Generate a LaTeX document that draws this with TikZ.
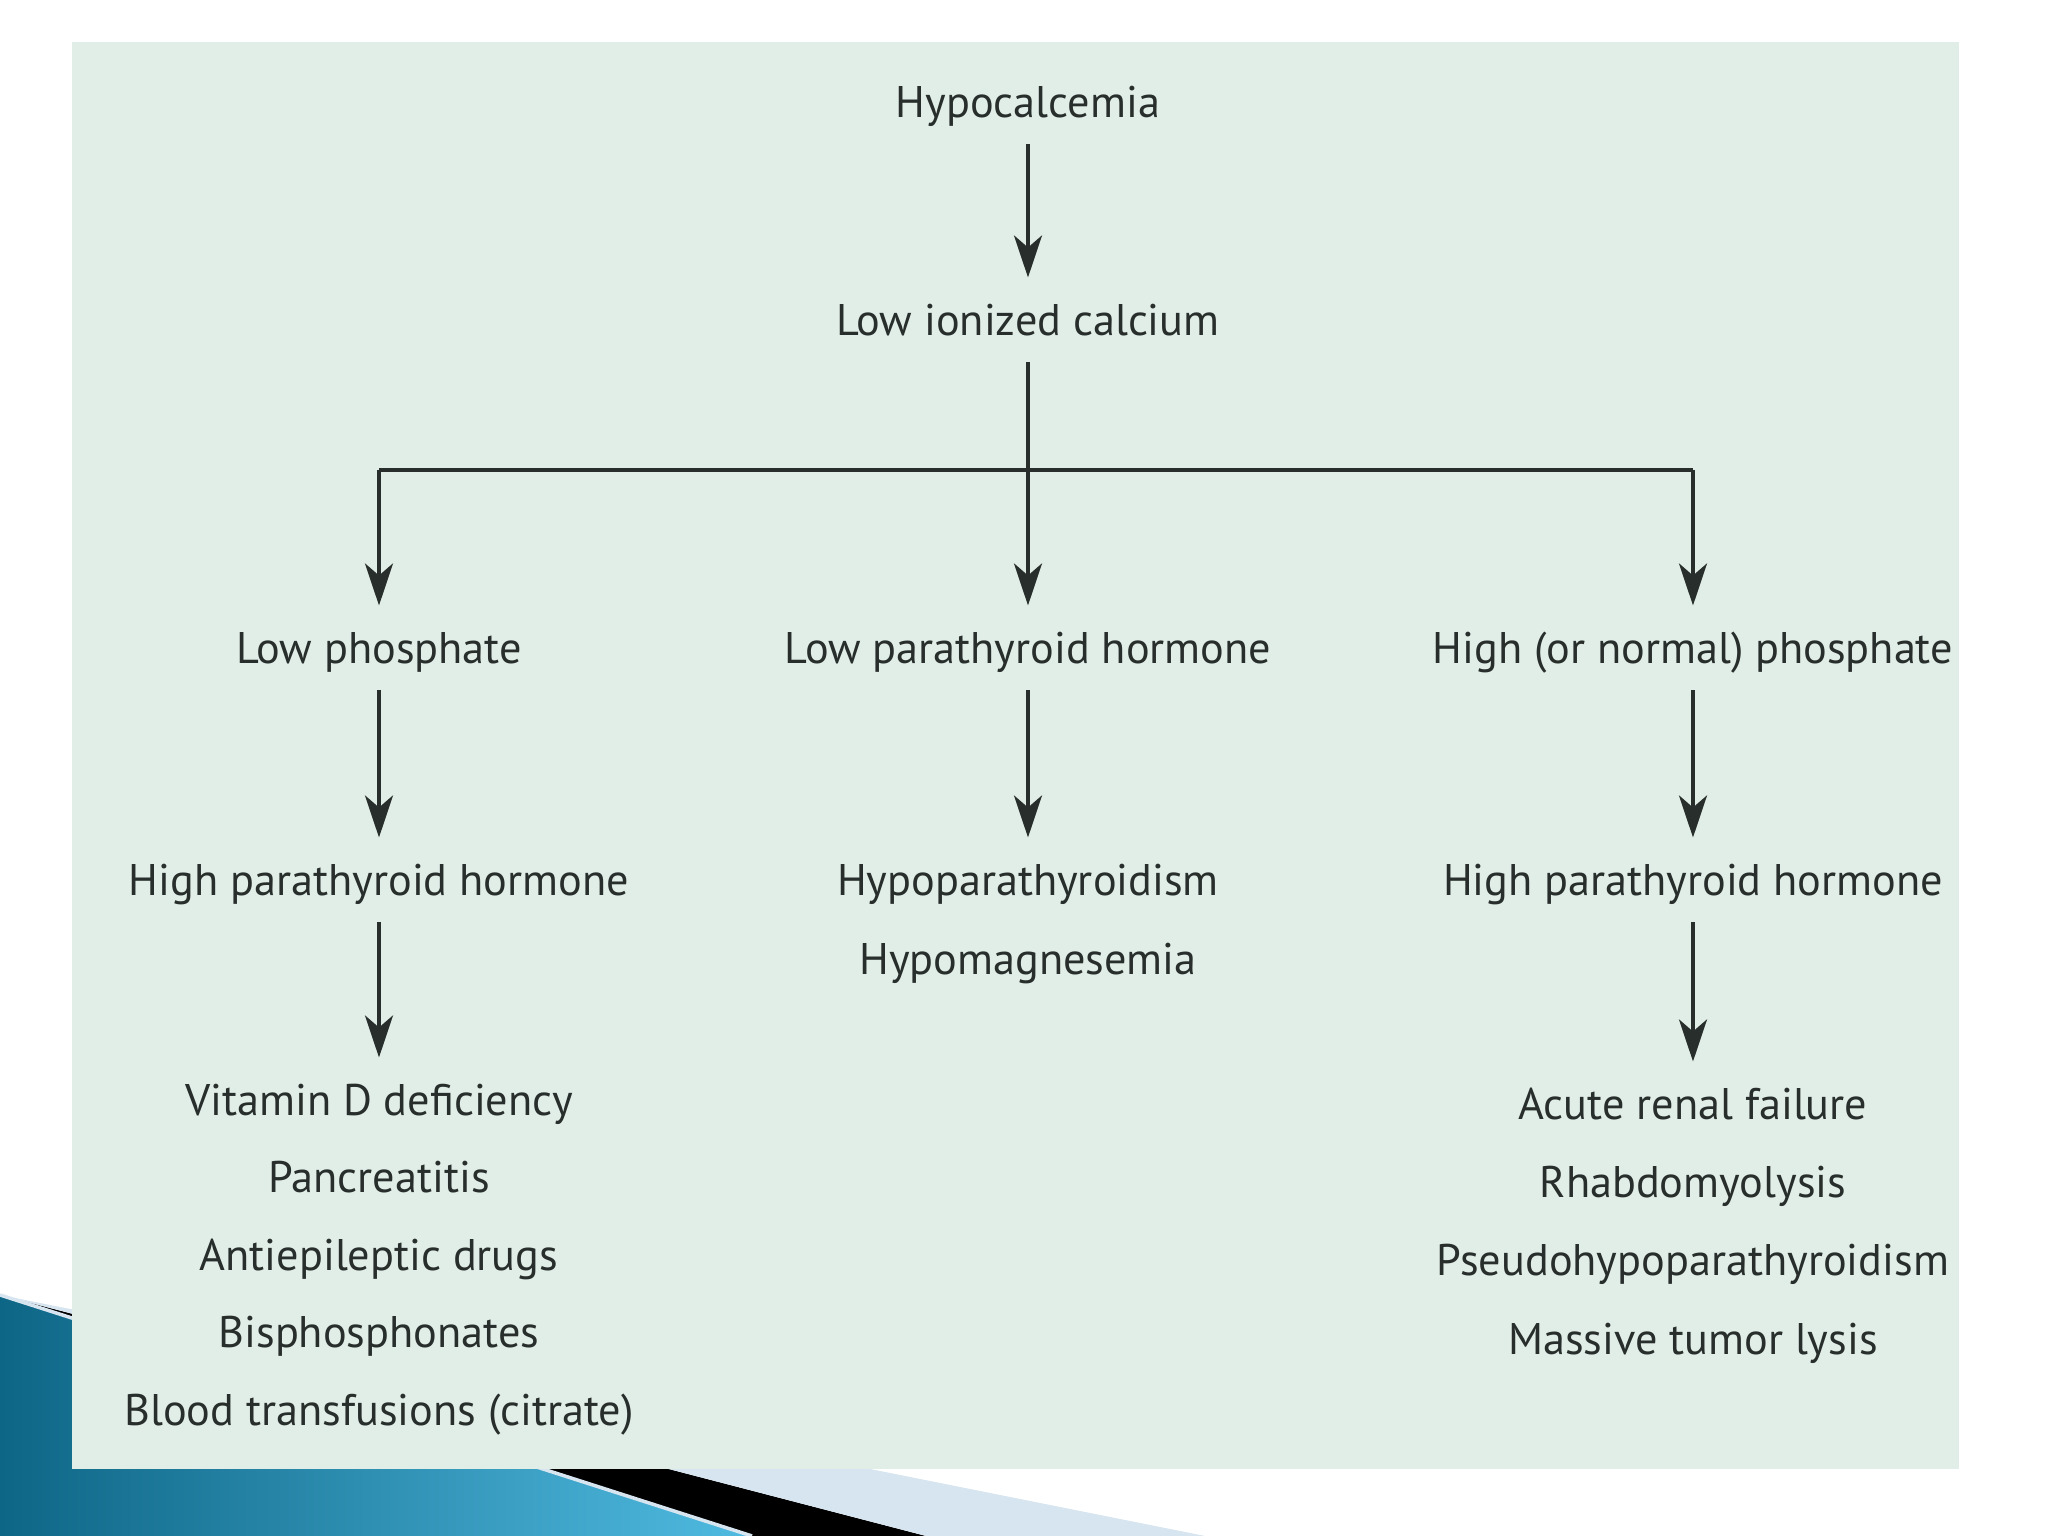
\documentclass[tikz,border=0pt]{standalone}
\usepackage{fontspec}
\setmainfont{PT Sans}
\usepackage{tikz}
\usetikzlibrary{shapes, positioning, arrows.meta}

\definecolor{panelgreen}{RGB}{225,238,232}
\definecolor{inkgray}{RGB}{40,46,43}
\definecolor{tealdark}{RGB}{14,102,134}
\definecolor{teallight}{RGB}{80,186,224}
\definecolor{palesky}{RGB}{214,229,239}

\begin{document}
\begin{tikzpicture}[
    txt/.style={font=\fontsize{12.6}{15}\selectfont, text=inkgray, inner sep=0pt,
                text height=0.31cm, text depth=0pt, outer ysep=0.27cm},
    conn/.style={draw=inkgray, line width=1.1pt},
    arr/.style={conn, -{Stealth[length=0.42cm, width=0.28cm, inset=0.12cm]}}
]
    \useasboundingbox (0,0) rectangle (20.48,15.36);

    % Corner swoosh behind the panel
    \shade[left color=tealdark, right color=teallight] (0,2.41) -- (7.52,0) -- (0,0) -- cycle;
    \fill[black] (0,2.41) -- (9.26,0) -- (7.52,0) -- cycle;
    \fill[palesky] (0,2.41) -- (12.05,0) -- (9.26,0) -- cycle;
    \draw[palesky, line width=1pt] (0,2.41) -- (7.52,0);

    % Panel
    \fill[panelgreen] (0.72,0.67) rectangle (19.59,14.94);

    % Define the top of the tree
    \node[txt] (hypo) at (10.28,14.34) {Hypocalcemia};
    \node[txt] (lowion) at (10.28,12.16) {Low ionized calcium};

    % Define the three branches
    \node[txt] (lowphos) at (3.79,8.88) {Low phosphate};
    \node[txt] (lowpth) at (10.28,8.88) {Low parathyroid hormone};
    \node[txt] (highphos) at (16.93,8.88) {High (or normal) phosphate};

    \node[txt] (hpthL) at (3.79,6.56) {High parathyroid hormone};
    \node[txt] (hypopara) at (10.28,6.56) {Hypoparathyroidism};
    \node[txt] (hypomag) at (10.28,5.77) {Hypomagnesemia};
    \node[txt] (hpthR) at (16.93,6.56) {High parathyroid hormone};

    % Define the causes, left column
    \node[txt] (vitd) at (3.79,4.36) {Vitamin D deficiency};
    \node[txt] (panc) at (3.79,3.59) {Pancreatitis};
    \node[txt] (antiep) at (3.79,2.81) {Antiepileptic drugs};
    \node[txt] (bisph) at (3.79,2.04) {Bisphosphonates};
    \node[txt] (blood) at (3.79,1.26) {Blood transfusions (citrate)};

    % Define the causes, right column
    \node[txt] (renal) at (16.93,4.32) {Acute renal failure};
    \node[txt] (rhabdo) at (16.93,3.54) {Rhabdomyolysis};
    \node[txt] (pseudo) at (16.93,2.76) {Pseudohypoparathyroidism};
    \node[txt] (lysis) at (16.93,1.97) {Massive tumor lysis};

    % Junction points on the split line
    \coordinate (jl) at (3.79,10.66);
    \coordinate (jm) at (10.28,10.66);
    \coordinate (jr) at (16.93,10.66);

    % Draw all connectors
    \draw[arr] (hypo) -- (lowion);
    \draw[conn] (lowion) -- (jm);
    \draw[conn] (jl) -- (jr);
    \draw[arr] (jl) -- (lowphos);
    \draw[arr] (jm) -- (lowpth);
    \draw[arr] (jr) -- (highphos);
    \draw[arr] (lowphos) -- (hpthL);
    \draw[arr] (lowpth) -- (hypopara);
    \draw[arr] (highphos) -- (hpthR);
    \draw[arr] (hpthL) -- (vitd);
    \draw[arr] (hpthR) -- (renal);
\end{tikzpicture}
\end{document}
